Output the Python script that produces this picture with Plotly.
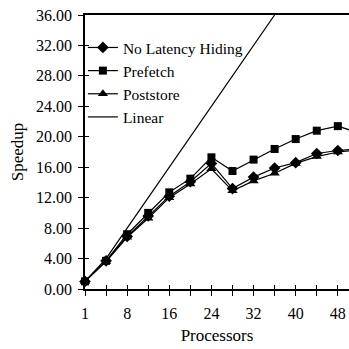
import plotly.graph_objects as go

processors = ["1", "4", "8", "12", "16", "20", "24", "28", "32", "36", "40", "44", "48", "52"]
no_latency_hiding = [1.0, 3.7, 6.9, 9.6, 12.2, 14.1, 16.5, 13.2, 14.7, 15.9, 16.6, 17.8, 18.2, 18.4]
prefetch = [1.0, 3.7, 7.2, 10.0, 12.7, 14.5, 17.3, 15.5, 17.0, 18.4, 19.7, 20.8, 21.4, 20.5]
poststore = [1.0, 3.6, 6.8, 9.3, 12.0, 13.8, 15.8, 12.9, 14.2, 15.2, 16.5, 17.4, 18.0, 18.3]
linear_x = ["1", "4", "8", "12", "16", "20", "24", "28", "32", "36"]
linear_y = [1, 4, 8, 12, 16, 20, 24, 28, 32, 36]
x_tick_labels = ["1", "", "8", "", "16", "", "24", "", "32", "", "40", "", "48", ""]
y_ticks = [0, 4, 8, 12, 16, 20, 24, 28, 32, 36]

FONT = "Liberation Serif"
fig = go.Figure()
line = dict(color="black", width=1.2)
fig.add_trace(go.Scatter(x=processors, y=no_latency_hiding, name="No Latency Hiding", mode="lines+markers",
                         line=line, marker=dict(symbol="diamond", size=9, color="black"), cliponaxis=False))
fig.add_trace(go.Scatter(x=processors, y=prefetch, name="Prefetch", mode="lines+markers",
                         line=line, marker=dict(symbol="square", size=8, color="black"), cliponaxis=False))
fig.add_trace(go.Scatter(x=processors, y=poststore, name="Poststore", mode="lines+markers",
                         line=line, marker=dict(symbol="triangle-up", size=9, color="black"), cliponaxis=False))
fig.add_trace(go.Scatter(x=linear_x, y=linear_y, name="Linear", mode="lines",
                         line=dict(color="black", width=1.2), xaxis="x2", yaxis="y2"))

xr = [0, 12.53]
yr = [0, 36]
fig.update_layout(
    width=349, height=349,
    margin=dict(l=85, r=0, t=15, b=60),
    paper_bgcolor="white", plot_bgcolor="white",
    font=dict(family=FONT, size=16, color="black"),
    showlegend=True,
    legend=dict(x=-0.008, y=0.942, xanchor="left", yanchor="top", bgcolor="rgba(0,0,0,0)",
                font=dict(family=FONT, size=15.5, color="black")),
    xaxis=dict(type="category", categoryorder="array", categoryarray=processors, range=xr,
               tickmode="array", tickvals=processors, ticktext=x_tick_labels,
               ticks="outside", ticklen=5, tickwidth=1, tickcolor="black",
               showline=True, linecolor="black", linewidth=1.5, mirror=True,
               showgrid=False, zeroline=False, ticklabelstandoff=4,
               title=dict(text="Processors", font=dict(family=FONT, size=17), standoff=8)),
    yaxis=dict(range=yr, tickmode="array", tickvals=y_ticks, ticktext=[f"{v:.2f}" for v in y_ticks],
               ticks="outside", ticklen=5, tickwidth=1, tickcolor="black",
               showline=True, linecolor="black", linewidth=1.5,
               showgrid=False, zeroline=False, ticklabelstandoff=3,
               title=dict(text="Speedup", font=dict(family=FONT, size=17), standoff=8)),
    xaxis2=dict(type="category", categoryorder="array", categoryarray=processors, range=xr,
                overlaying="x", anchor="y2", tickmode="array", tickvals=processors,
                ticks="inside", ticklen=4, tickwidth=1, tickcolor="black",
                showticklabels=False, showline=False, showgrid=False, zeroline=False, side="bottom"),
    yaxis2=dict(range=yr, overlaying="y", anchor="x2", tickmode="array", tickvals=y_ticks,
                ticks="inside", ticklen=4, tickwidth=1, tickcolor="black",
                showticklabels=False, showline=False, showgrid=False, zeroline=False, side="left"),
)
fig.write_html("out.html")
